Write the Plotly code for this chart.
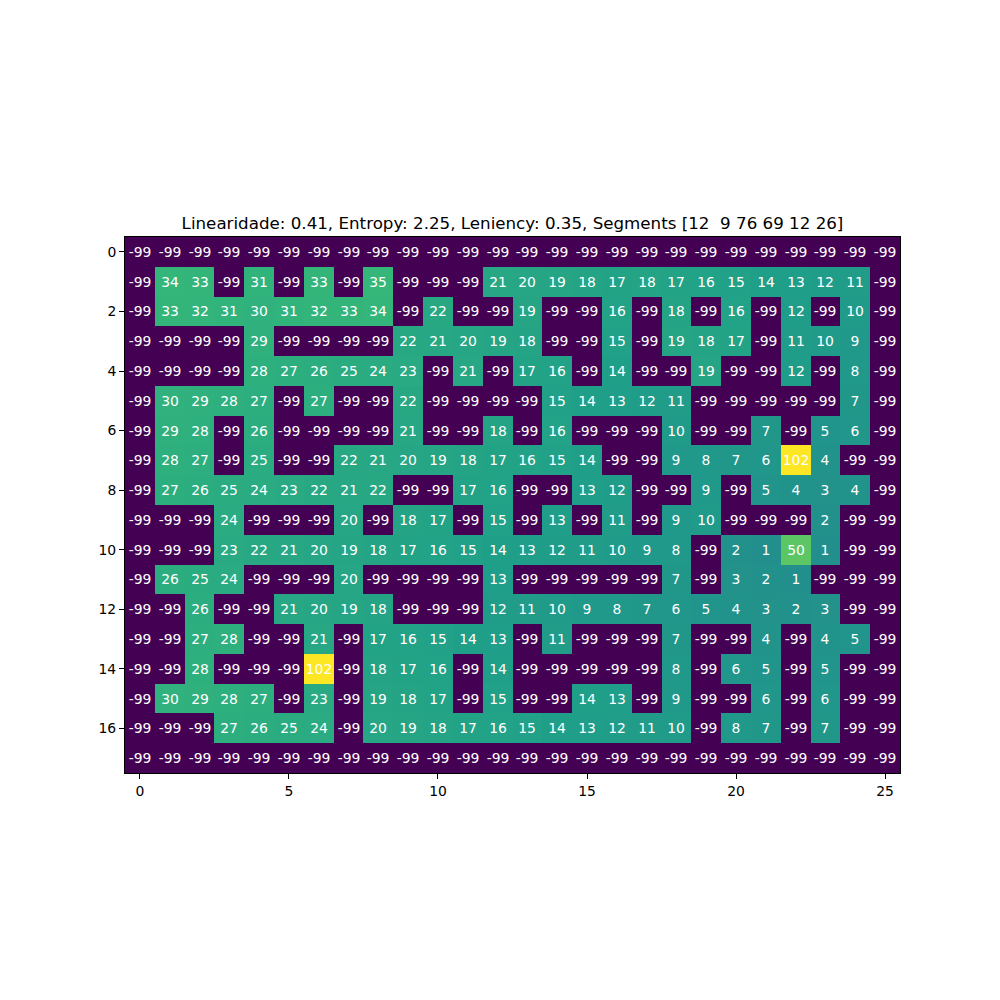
import plotly.graph_objects as go

N = -99
rows = [
    [N]*26,
    [N,34,33,N,31,N,33,N,35,N,N,N,21,20,19,18,17,18,17,16,15,14,13,12,11,N],
    [N,33,32,31,30,31,32,33,34,N,22,N,N,19,N,N,16,N,18,N,16,N,12,N,10,N],
    [N,N,N,N,29,N,N,N,N,22,21,20,19,18,N,N,15,N,19,18,17,N,11,10,9,N],
    [N,N,N,N,28,27,26,25,24,23,N,21,N,17,16,N,14,N,N,19,N,N,12,N,8,N],
    [N,30,29,28,27,N,27,N,N,22,N,N,N,N,15,14,13,12,11,N,N,N,N,N,7,N],
    [N,29,28,N,26,N,N,N,N,21,N,N,18,N,16,N,N,N,10,N,N,7,N,5,6,N],
    [N,28,27,N,25,N,N,22,21,20,19,18,17,16,15,14,N,N,9,8,7,6,102,4,N,N],
    [N,27,26,25,24,23,22,21,22,N,N,17,16,N,N,13,12,N,N,9,N,5,4,3,4,N],
    [N,N,N,24,N,N,N,20,N,18,17,N,15,N,13,N,11,N,9,10,N,N,N,2,N,N],
    [N,N,N,23,22,21,20,19,18,17,16,15,14,13,12,11,10,9,8,N,2,1,50,1,N,N],
    [N,26,25,24,N,N,N,20,N,N,N,N,13,N,N,N,N,N,7,N,3,2,1,N,N,N],
    [N,N,26,N,N,21,20,19,18,N,N,N,12,11,10,9,8,7,6,5,4,3,2,3,N,N],
    [N,N,27,28,N,N,21,N,17,16,15,14,13,N,11,N,N,N,7,N,N,4,N,4,5,N],
    [N,N,28,N,N,N,102,N,18,17,16,N,14,N,N,N,N,N,8,N,6,5,N,5,N,N],
    [N,30,29,28,27,N,23,N,19,18,17,N,15,N,N,14,13,N,9,N,N,6,N,6,N,N],
    [N,N,N,27,26,25,24,N,20,19,18,17,16,15,14,13,12,11,10,N,8,7,N,7,N,N],
    [N]*26,
]
title_text = "Linearidade: 0.41, Entropy: 2.25, Leniency: 0.35, Segments [12\u00a0\u00a09 76 69 12 26]"
x_ticks = [0, 5, 10, 15, 20, 25]
y_ticks = [0, 2, 4, 6, 8, 10, 12, 14, 16]

text = [[str(v) for v in r] for r in rows]

fig = go.Figure(go.Heatmap(
    z=rows,
    x=list(range(26)),
    y=list(range(18)),
    text=text,
    texttemplate="%{text}",
    textfont=dict(color="white", size=13.9, family="DejaVu Sans"),
    colorscale="Viridis",
    zmin=-99, zmax=102,
    showscale=False,
    hoverinfo="skip",
))

fig.update_layout(
    width=1000, height=1000,
    margin=dict(l=125, r=100, t=237, b=227),
    paper_bgcolor="white", plot_bgcolor="white",
    font=dict(family="DejaVu Sans", size=13.9, color="black"),
    title=dict(text=title_text, x=0.5125, xanchor="center", y=1 - 229/1000, yanchor="bottom",
               font=dict(size=16.7, family="DejaVu Sans", color="black")),
)
fig.update_xaxes(
    range=[-0.5, 25.5], tickvals=x_ticks, ticks="outside", ticklen=5, tickcolor="black",
    showgrid=False, zeroline=False, showline=True, linecolor="black", mirror=True,
    tickfont=dict(size=13.9, color="black"),
)
fig.update_yaxes(
    range=[17.5, -0.5], tickvals=y_ticks, ticks="outside", ticklen=5, tickcolor="black",
    showgrid=False, zeroline=False, showline=True, linecolor="black", mirror=True,
    tickfont=dict(size=13.9, color="black"),
)

fig.write_html("out.html")
